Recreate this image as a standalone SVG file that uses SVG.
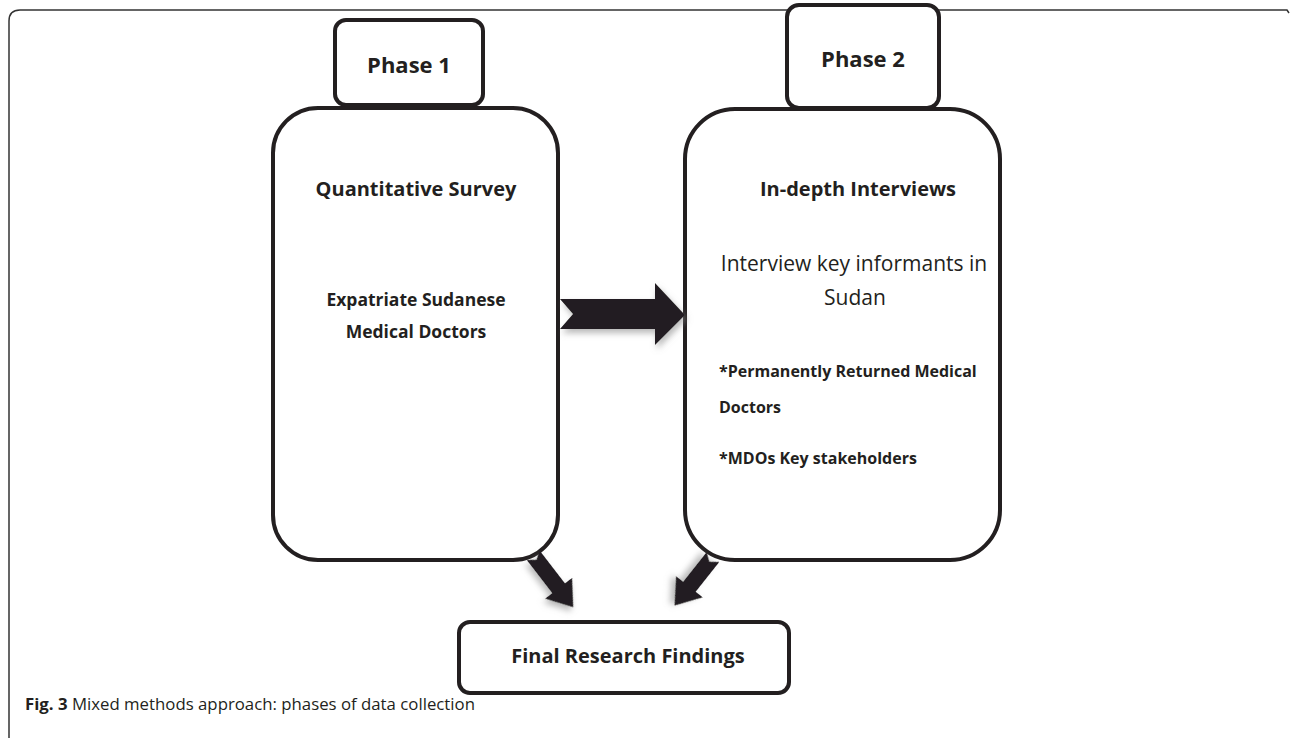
<svg xmlns="http://www.w3.org/2000/svg" width="1290" height="738" viewBox="0 0 1290 738">
<defs>
<style>
.box{fill:#fff;stroke:#231f20;stroke-width:4}
.b{font-family:"Open Sans","Liberation Sans",sans-serif;font-weight:bold;fill:#231f20}
.r{font-family:"Open Sans","Liberation Sans",sans-serif;fill:#231f20}
.arrow{fill:#231f20}
</style>
<filter id="sh" x="-30%" y="-30%" width="160%" height="160%">
<feDropShadow dx="2" dy="4" stdDeviation="3" flood-color="#888" flood-opacity="0.6"/>
</filter>
</defs>
<rect width="1290" height="738" fill="#fff"/>
<path d="M9,738 L9,21 Q9,10 20,10 L1287,10 L1289,13" fill="none" stroke="#333" stroke-width="1.5"/>
<g id="phase1-box">
<rect class="box" x="273" y="108" width="285" height="452" rx="45"/>
<text class="b" font-size="20" x="416" y="196" text-anchor="middle">Quantitative Survey</text>
<text class="b" font-size="17.5" x="416" y="306" text-anchor="middle">Expatriate Sudanese</text>
<text class="b" font-size="17.5" x="416" y="338" text-anchor="middle">Medical Doctors</text>
</g>
<g id="phase1-label">
<rect class="box" x="335" y="20" width="148" height="85" rx="11"/>
<text class="b" font-size="22" x="409" y="73" text-anchor="middle">Phase 1</text>
</g>
<g id="phase2-box">
<rect class="box" x="685" y="109" width="315" height="451" rx="50"/>
<text class="b" font-size="20" x="858" y="196" text-anchor="middle">In-depth Interviews</text>
<text class="r" font-size="21" x="854" y="271" text-anchor="middle">Interview key informants in</text>
<text class="r" font-size="21" x="855" y="305" text-anchor="middle">Sudan</text>
<text class="b" font-size="16" x="719" y="377">*Permanently Returned Medical</text>
<text class="b" font-size="16" x="719" y="413">Doctors</text>
<text class="b" font-size="16" x="719" y="464">*MDOs Key stakeholders</text>
</g>
<g id="phase2-label">
<rect class="box" x="787" y="5" width="152" height="103" rx="12"/>
<text class="b" font-size="22" x="863" y="67" text-anchor="middle">Phase 2</text>
</g>
<g id="final-box">
<rect class="box" x="459" y="622" width="330" height="71" rx="11"/>
<text class="b" font-size="20" x="628" y="663" text-anchor="middle">Final Research Findings</text>
</g>
<g id="connectors">
<path class="arrow" filter="url(#sh)" d="M560,299 L655,299 L655,283 L685,315 L655,345 L655,329 L560,329 L573,314 Z"/>
<path class="arrow" filter="url(#sh)" transform="translate(533,555) rotate(52.4)" d="M0,-8 L42,-8 L42,-17 L66,0 L42,17 L42,8 L0,8 L6,0 Z"/>
<path class="arrow" filter="url(#sh)" transform="translate(713,557) rotate(128.4)" d="M0,-8 L38,-8 L38,-17 L62,0 L38,17 L38,8 L0,8 L6,0 Z"/>
</g>
<g id="caption">
<text class="r" font-size="16.8" x="25" y="710"><tspan font-weight="bold">Fig. 3</tspan> Mixed methods approach: phases of data collection</text>
</g>
</svg>
